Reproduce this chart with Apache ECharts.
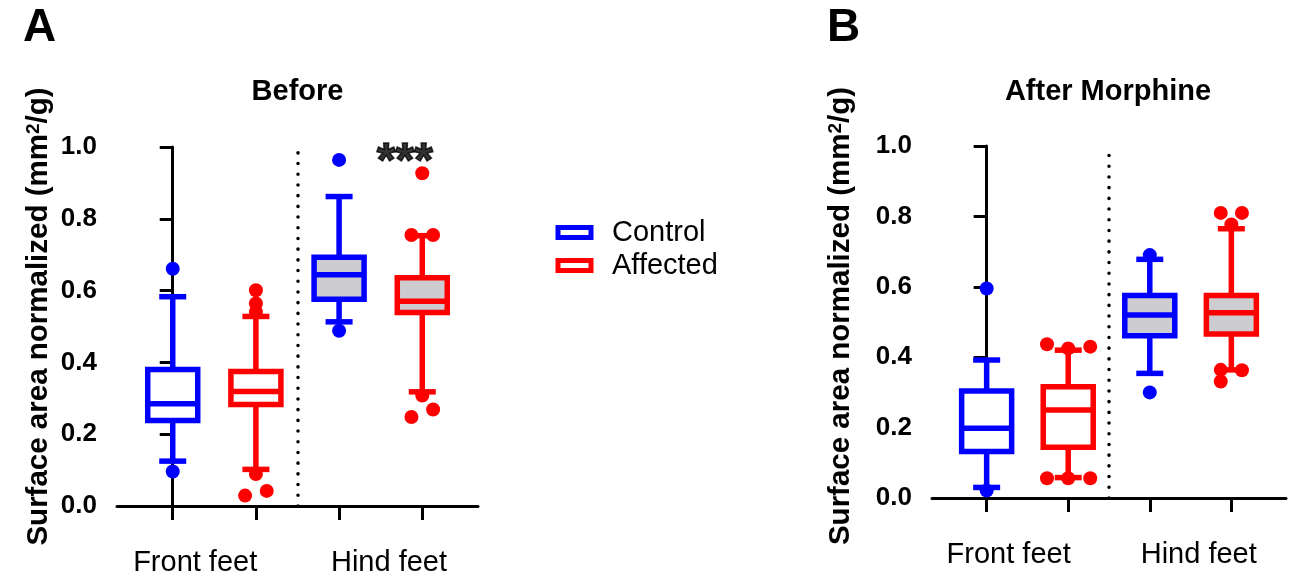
<!DOCTYPE html>
<html>
<head>
<meta charset="utf-8">
<script src="https://cdn.jsdelivr.net/npm/echarts@6/dist/echarts.min.js"></script>
<style>
html,body{margin:0;padding:0;background:#fff;}
#chart{width:1291px;height:577px;}
</style>
</head>
<body>
<div id="chart"></div>
<script>
// ---------------- data ----------------
const panelLetters = ['A', 'B'];
const panelTitles = ['Before', 'After Morphine'];
const seriesNames = ['Control', 'Affected'];
const groups = ['Front feet', 'Hind feet'];
const groupLabelPos = [0.27, 2.6];
const yAxisName = 'Surface area normalized (mm{sup|2}/g)';

// Box stats per group [whiskerLow, q1, median, q3, whiskerHigh] for [Front feet, Hind feet]
const beforeControlBox  = [[0.125, 0.238, 0.285, 0.380, 0.583], [0.513, 0.576, 0.644, 0.693, 0.862]];
const beforeAffectedBox = [[0.102, 0.283, 0.319, 0.375, 0.528], [0.318, 0.539, 0.570, 0.636, 0.753]];
const afterControlBox   = [[0.030, 0.132, 0.198, 0.304, 0.392], [0.354, 0.461, 0.520, 0.575, 0.678]];
const afterAffectedBox  = [[0.058, 0.144, 0.250, 0.316, 0.420], [0.364, 0.466, 0.526, 0.575, 0.765]];

// Outliers [group, jitter, value]
const beforeControlOut  = [[0, 0, 0.661], [0, 0, 0.096], [1, 0, 0.964], [1, 0, 0.488]];
const beforeAffectedOut = [[0, 0, 0.601], [0, 0, 0.564], [0, 0, 0.541], [0, 0, 0.089], [0, -0.13, 0.029], [0, 0.13, 0.042],
                           [1, 0, 0.927], [1, -0.13, 0.755], [1, 0.13, 0.755], [1, 0, 0.308], [1, -0.13, 0.248], [1, 0.13, 0.269]];
const afterControlOut   = [[0, 0, 0.595], [0, 0, 0.021], [1, 0, 0.690], [1, 0, 0.300]];
const afterAffectedOut  = [[0, -0.26, 0.437], [0, 0, 0.425], [0, 0.27, 0.430], [0, -0.26, 0.056], [0, 0, 0.056], [0, 0.27, 0.056],
                           [1, -0.13, 0.810], [1, 0.13, 0.810], [1, 0, 0.777], [1, -0.13, 0.364], [1, 0.13, 0.363], [1, -0.13, 0.331]];

// significance mark (Before panel, Hind feet)
const sigText = '***';
const sigPos = [2.79, 0.956];

// ---------------- styles ----------------
const FONT = 'Liberation Sans, Arial, sans-serif';
const colors = ['#0000ff', '#ff0000'];
const groupFill = ['#ffffff', '#cdcdd1'];
const LW = 5.5, BOX_HALF = 25, CAP_HALF = 13.5;

const panels = [
  {box: [beforeControlBox, beforeAffectedBox], out: [beforeControlOut, beforeAffectedOut]},
  {box: [afterControlBox, afterAffectedBox], out: [afterControlOut, afterAffectedOut]}
];

function renderBox(params, api) {
  const x = api.value(0);
  const lo = api.coord([x, api.value(1)]);
  const q1 = api.coord([x, api.value(2)]);
  const md = api.coord([x, api.value(3)]);
  const q3 = api.coord([x, api.value(4)]);
  const hi = api.coord([x, api.value(5)]);
  const fill = groupFill[api.value(6)];
  const c = api.visual('color');
  const cx = lo[0];
  const st = {stroke: c, lineWidth: LW, fill: null};
  return {
    type: 'group',
    children: [
      {type: 'line', shape: {x1: cx, y1: hi[1], x2: cx, y2: q3[1]}, style: st},
      {type: 'line', shape: {x1: cx, y1: q1[1], x2: cx, y2: lo[1]}, style: st},
      {type: 'line', shape: {x1: cx - CAP_HALF, y1: hi[1], x2: cx + CAP_HALF, y2: hi[1]}, style: st},
      {type: 'line', shape: {x1: cx - CAP_HALF, y1: lo[1], x2: cx + CAP_HALF, y2: lo[1]}, style: st},
      {type: 'rect', shape: {x: cx - BOX_HALF, y: q3[1], width: 2 * BOX_HALF, height: q1[1] - q3[1]},
        style: {fill: fill, stroke: c, lineWidth: LW}},
      {type: 'line', shape: {x1: cx - BOX_HALF, y1: md[1], x2: cx + BOX_HALF, y2: md[1]}, style: st}
    ]
  };
}

const grids = [
  {left: 117, top: 147, width: 361, height: 361},
  {left: 932, top: 146, width: 354, height: 352}
];
const nameGaps = [63, 76];
const namePads = [[0, 0, 0, 20], [0, 0, 0, 12]];

const xAxes = [], yAxes = [], series = [];
grids.forEach((g, p) => {
  xAxes.push({
    gridIndex: p, type: 'value', min: -0.67, max: 3.67,
    splitLine: {show: false},
    axisLine: {show: true, onZero: false, lineStyle: {color: '#000', width: 3}},
    axisTick: {show: true, customValues: [0, 1, 2, 3], length: 14, lineStyle: {color: '#000', width: 3}},
    axisLabel: {show: true, customValues: groupLabelPos, margin: 42,
      formatter: v => groups[groupLabelPos.indexOf(v)] || '',
      color: '#000', fontSize: 29, fontFamily: FONT}
  });
  yAxes.push({
    gridIndex: p, type: 'value', min: 0, max: 1, interval: 0.2,
    splitLine: {show: false},
    axisLine: {show: true, lineStyle: {color: '#000', width: 3}},
    axisTick: {show: true, length: 13, lineStyle: {color: '#000', width: 3}},
    axisLabel: {formatter: v => v.toFixed(1), color: '#000', fontSize: 26, fontWeight: 'bold', fontFamily: FONT, margin: 20},
    name: yAxisName, nameLocation: 'middle', nameRotate: 90, nameGap: nameGaps[p],
    nameTextStyle: {color: '#000', fontSize: 29.5, fontWeight: 'bold', fontFamily: FONT, padding: namePads[p],
      rich: {sup: {fontSize: 19, fontWeight: 'bold', fontFamily: FONT, color: '#000', verticalAlign: 'top'}}}
  });
  const panel = panels[p];
  seriesNames.forEach((name, s) => {
    const boxData = panel.box[s].map((b, gi) => [gi * 2 + s, b[0], b[1], b[2], b[3], b[4], gi]);
    const boxSeries = {
      name: name, type: 'custom', xAxisIndex: p, yAxisIndex: p,
      itemStyle: {color: colors[s]},
      renderItem: renderBox, data: boxData, z: 2, silent: true
    };
    if (s === 0) {
      boxSeries.markLine = {
        silent: true, symbol: 'none', label: {show: false},
        lineStyle: {color: '#000', width: 3.5, type: [0.1, 10.6], cap: 'round'},
        data: [{xAxis: 1.5}]
      };
    }
    series.push(boxSeries);
  });
  seriesNames.forEach((name, s) => {
    series.push({
      name: name, type: 'scatter', xAxisIndex: p, yAxisIndex: p,
      symbol: 'circle', symbolSize: 14, itemStyle: {color: colors[s], opacity: 1},
      data: panel.out[s].map(o => [o[0] * 2 + s + o[1], o[2]]), z: 4, silent: true
    });
  });
});

series.push({
  type: 'scatter', xAxisIndex: 0, yAxisIndex: 0, symbolSize: 0, silent: true,
  itemStyle: {color: '#000'},
  data: [sigPos],
  label: {show: true, position: 'inside', formatter: sigText, color: '#000', textBorderColor: '#000', textBorderWidth: 1.5,
    fontSize: 48, fontWeight: 'bold', fontFamily: FONT}
});

const option = {
  animation: false,
  backgroundColor: '#fff',
  title: [
    {text: panelLetters[0], left: 23, top: 5, padding: 0, textStyle: {fontSize: 46, fontWeight: 'bold', color: '#000', fontFamily: FONT}},
    {text: panelLetters[1], left: 827, top: 5, padding: 0, textStyle: {fontSize: 46, fontWeight: 'bold', color: '#000', fontFamily: FONT}},
    {text: panelTitles[0], left: 297.5, top: 77, padding: 0, textAlign: 'center', textStyle: {fontSize: 29, fontWeight: 'bold', color: '#000', fontFamily: FONT}},
    {text: panelTitles[1], left: 1108, top: 77, padding: 0, textAlign: 'center', textStyle: {fontSize: 29, fontWeight: 'bold', color: '#000', fontFamily: FONT}}
  ],
  legend: {
    orient: 'vertical', left: 555.5, top: 218, padding: 0, itemGap: 4,
    itemWidth: 33, itemHeight: 10, selectedMode: false,
    data: seriesNames.map((n, i) => ({name: n, icon: 'rect', itemStyle: {color: '#fff', borderColor: colors[i], borderWidth: 5}})),
    textStyle: {fontSize: 29, color: '#000', fontFamily: FONT, padding: [0, 0, 0, 16]}
  },
  grid: grids,
  xAxis: xAxes,
  yAxis: yAxes,
  series: series
};

const chart = echarts.init(document.getElementById('chart'), null, {renderer: 'canvas'});
chart.setOption(option);
</script>
</body>
</html>
